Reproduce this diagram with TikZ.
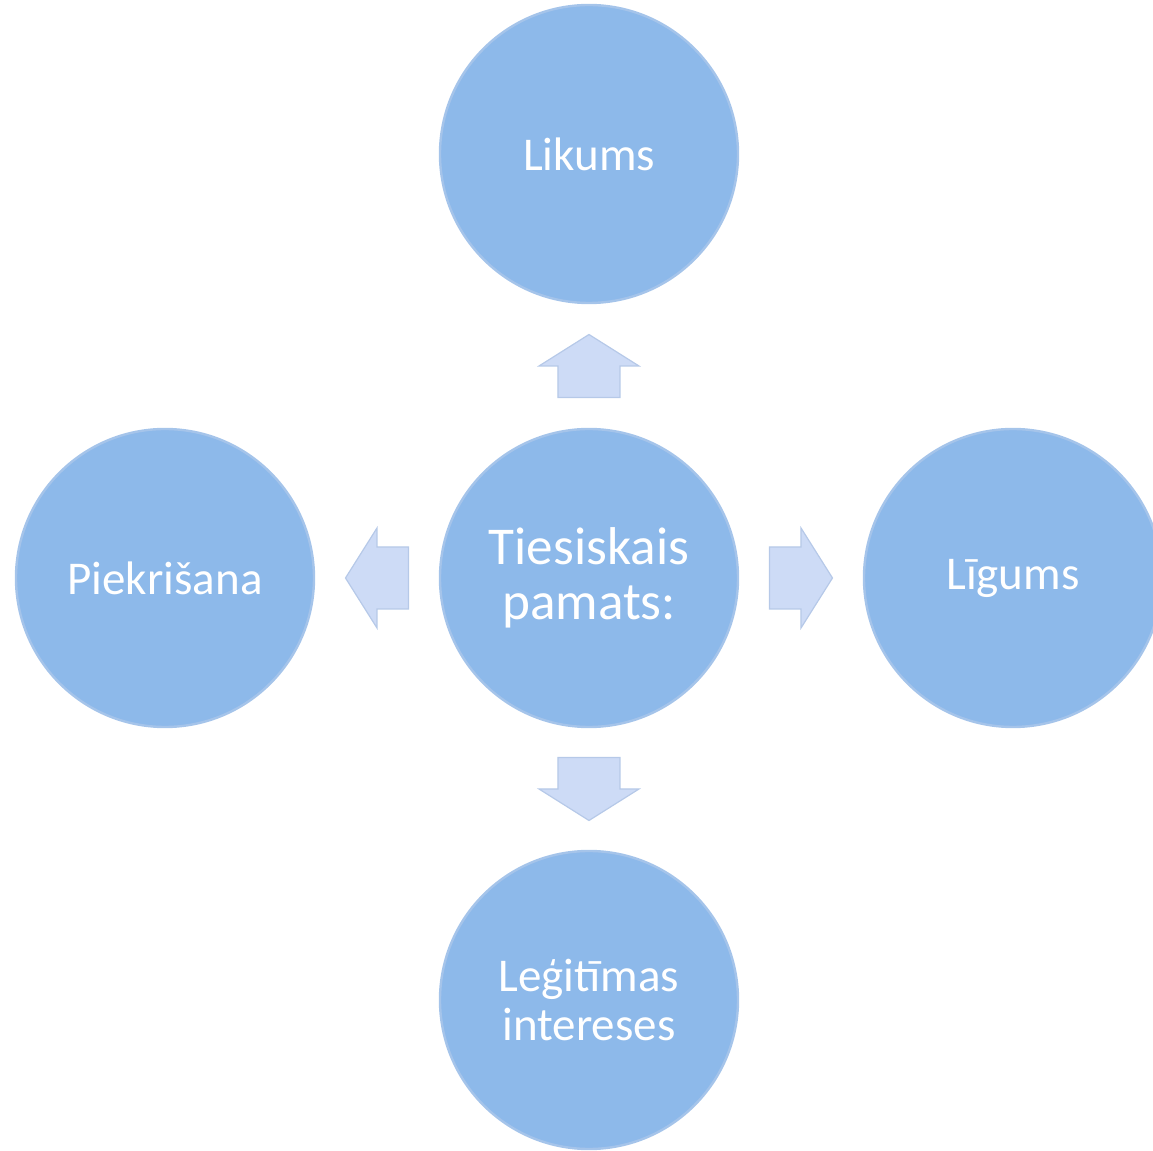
\documentclass[tikz,border=0pt]{standalone}
\usepackage{fontspec}
\setmainfont{Carlito}
\usetikzlibrary{calc}
\definecolor{circle blue}{RGB}{141,185,234}
\definecolor{circle rim}{RGB}{165,196,234}
\definecolor{arrow blue}{RGB}{205,219,246}
\definecolor{arrow rim}{RGB}{182,201,232}
\tikzstyle{basis vertex}=[circle,fill=circle blue,draw=circle rim,line width=1.2pt,minimum size=149pt,inner sep=0pt,text=white,align=center,font=\fontsize{23.5}{24.5}\selectfont]
\tikzstyle{centre vertex}=[basis vertex,font=\fontsize{26.6}{27.5}\selectfont]
\tikzstyle{arrow fill}=[fill=arrow blue,draw=arrow rim,line width=0.6pt,line join=miter]
\tikzset{block arrow/.pic={
    \path[arrow fill] (-31.5,-31) -- (0,-31) -- (0,-50) -- (31.5,0)
        -- (0,50) -- (0,31) -- (-31.5,31) -- cycle;}}

\begin{document}
\begin{tikzpicture}[x=0.5pt,y=0.5pt]
    \useasboundingbox (-589,-573) rectangle (564,578);
    % Draw the centre, then the legal bases round it
    \node[centre vertex] (Centre) at (0,0) {Tiesiskais\\pamats:};
    \foreach \pos/\name/\text in {{(0,424)/Likums/Likums},
        {(-424,0)/Piekrisana/Piekrišana},{(424,0)/Ligums/Līgums},
        {(0,-422)/Legitimas/{Leģitīmas\\intereses}}}
    \node[basis vertex] (\name) at \pos {\text};
    % Block arrows half way between the centre and each basis
    \foreach \dest/\angle in {Likums/90,Piekrisana/180,Ligums/0,Legitimas/270}
    \path ($(Centre)!0.5!(\dest)$) pic[rotate=\angle] {block arrow};
\end{tikzpicture}
\end{document}
